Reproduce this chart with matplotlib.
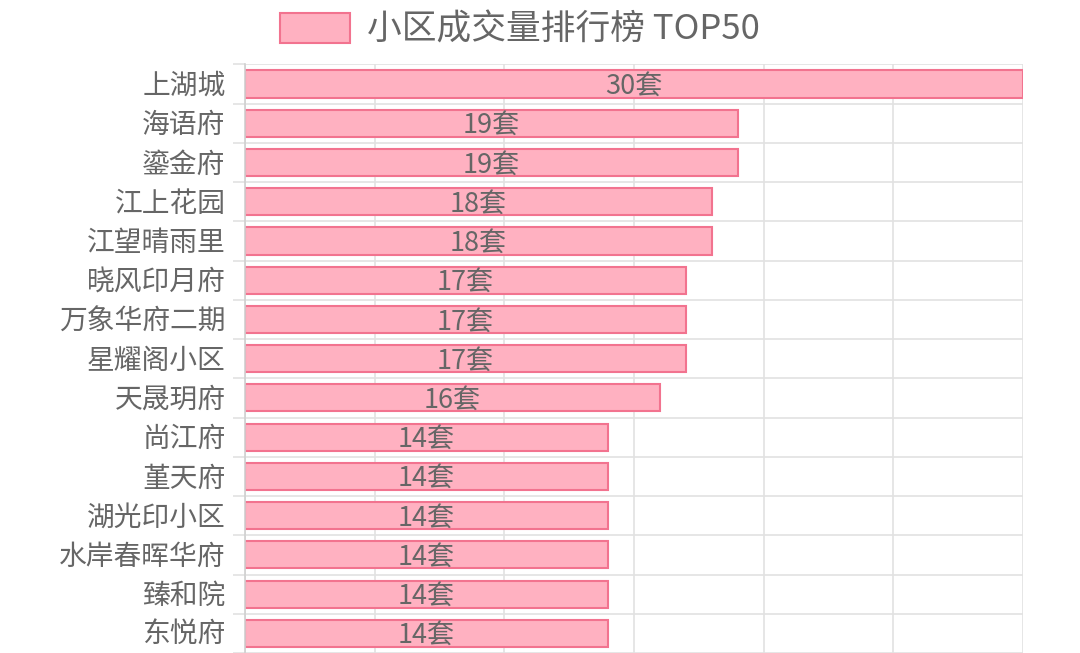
import numpy as np
import matplotlib.pyplot as plt
from matplotlib.patches import Patch

plt.rcParams['font.family'] = ['Noto Sans CJK SC', 'DejaVu Sans']

# 数据 (TOP50 中截图可见的前 15 个)
communities = ["上湖城", "海语府", "鎏金府", "江上花园", "江望晴雨里", "晓风印月府", "万象华府二期",
               "星耀阁小区", "天晟玥府", "尚江府", "堇天府", "湖光印小区", "水岸春晖华府", "臻和院", "东悦府"]
deals = [30, 19, 19, 18, 18, 17, 17, 17, 16, 14, 14, 14, 14, 14, 14]
x_ticks = [0, 5, 10, 15, 20, 25, 30]
legend_label = "小区成交量排行榜 TOP50"

FILL = "#FFB1C1"
EDGE = "#F2738F"
TEXT = "#666666"
GRID = "#E2E2E2"

W, H = 1080, 653
fig = plt.figure(figsize=(W / 100, H / 100), dpi=100)

# 绘图区: x 245..1023 px, y 64.4..653 px (从顶部算)
left, right = 245, 1023
top, bottom = 64.4, 653
ax = fig.add_axes([left / W, 1 - bottom / H, (right - left) / W, (bottom - top) / H])

y = np.arange(len(communities))
step = 39.3
n_units = (bottom - top) / step
ax.set_ylim(-0.5 + n_units, -0.5)
ax.set_xlim(0, 30)

ax.barh(y, deals, height=0.69, color=FILL, edgecolor=EDGE, linewidth=1.5, zorder=3)
for yi, v in zip(y, deals):
    ax.text(v / 2, yi + 0.06, f"{v}套", ha='center', va='center', fontsize=19.5, color=TEXT, zorder=4)

# 网格
ax.set_xticks(x_ticks)
ax.set_xticklabels([])
ax.tick_params(axis='x', length=0)
ax.set_yticks(y - 0.04)
ax.set_yticklabels(communities, fontsize=20, color=TEXT)
ax.tick_params(axis='y', which='major', length=0, pad=14)
ax.set_yticks(np.arange(-0.5, len(communities) + 0.5, 1), minor=True)
ax.tick_params(axis='y', which='minor', length=9, color=GRID, width=1.2)
ax.grid(axis='x', which='major', color=GRID, linewidth=1.2, zorder=0)
ax.grid(axis='y', which='minor', color=GRID, linewidth=1.2, zorder=0)

for s in ['top', 'right', 'bottom']:
    ax.spines[s].set_visible(False)
ax.spines['left'].set_color("#D0D0D0")
ax.spines['left'].set_linewidth(1.2)
ax.spines['left'].set_zorder(5)

# 图例
handle = Patch(facecolor=FILL, edgecolor=EDGE, linewidth=1.5)
leg = fig.legend([handle], [legend_label], loc='center', bbox_to_anchor=(520 / W, 1 - 30 / H),
                 frameon=False, fontsize=25, handlelength=2.0, handleheight=0.95, handletextpad=0.5)
for t in leg.get_texts():
    t.set_color(TEXT)

fig.savefig("out.png", dpi=100)
